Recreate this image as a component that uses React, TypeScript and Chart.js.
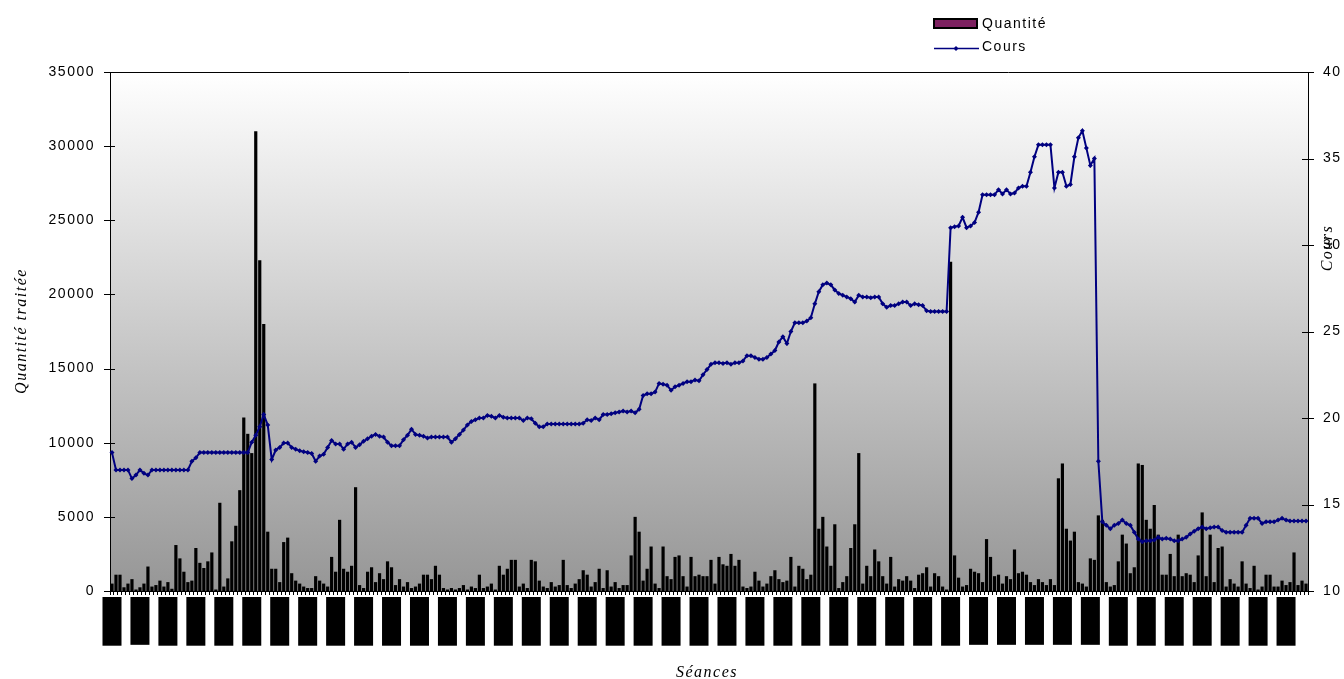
import React, { useEffect, useRef } from 'react';
import { Chart, registerables } from 'chart.js';

Chart.register(...registerables);

// Tick labels (every 7th séance is labelled)
const tickDates = [
  '02/01/07', '11/01/07', '22/01/07', '31/01/07', '09/02/07', '20/02/07', '01/03/07', '12/03/07', '21/03/07', '30/03/07',
  '10/04/07', '19/04/07', '30/04/07', '09/05/07', '18/05/07', '29/05/07', '07/06/07', '18/06/07', '27/06/07', '06/07/07',
  '17/07/07', '26/07/07', '06/08/07', '15/08/07', '24/08/07', '04/09/07', '13/09/07', '24/09/07', '03/10/07', '12/10/07',
  '23/10/07', '01/11/07', '12/11/07', '21/11/07', '30/11/07', '11/12/07', '20/12/07', '31/12/07', '09/01/08', '18/01/08',
  '29/01/08', '07/02/08', '18/02/08',
];
const LABEL_STEP = 7;

const qtyTicks = [0, 5000, 10000, 15000, 20000, 25000, 30000, 35000];
const coursTicks = [10, 15, 20, 25, 30, 35, 40];

// Quantité traitée (left axis)
const quantite = [
  500, 1100, 1100, 250, 500, 800, 100, 250, 500, 1650,
  300, 400, 700, 300, 600, 150, 3100, 2200, 1300, 600,
  700, 2900, 1900, 1550, 2000, 2600, 100, 5950, 300, 850,
  3350, 4400, 6800, 11700, 10600, 9300, 31000, 22300, 18000, 4000,
  1500, 1500, 600, 3300, 3600, 1200, 700, 500, 300, 200,
  200, 1000, 700, 500, 300, 2300, 1300, 4800, 1500, 1300,
  1700, 7000, 400, 200, 1300, 1600, 600, 1200, 800, 2000,
  1600, 400, 800, 300, 600, 200, 300, 500, 1100, 1100,
  800, 1700, 1100, 200, 100, 200, 100, 200, 400, 100,
  300, 200, 1100, 200, 300, 500, 100, 1700, 1100, 1500,
  2100, 2100, 300, 500, 200, 2100, 2000, 700, 300, 200,
  600, 300, 400, 2100, 400, 200, 500, 800, 1400, 1100,
  300, 600, 1500, 200, 1400, 300, 600, 200, 400, 400,
  2400, 5000, 4000, 700, 1500, 3000, 500, 200, 3000, 1000,
  800, 2300, 2400, 1000, 300, 2300, 1000, 1100, 1000, 1000,
  2100, 500, 2300, 1800, 1700, 2500, 1700, 2100, 300, 200,
  300, 1300, 700, 300, 500, 1000, 1400, 800, 600, 700,
  2300, 300, 1700, 1500, 800, 1100, 14000, 4200, 5000, 3000,
  1700, 4500, 200, 600, 1000, 2900, 4500, 9300, 500, 1700,
  1000, 2800, 2000, 1000, 500, 2300, 300, 800, 700, 1000,
  700, 200, 1100, 1200, 1600, 300, 1200, 1000, 300, 100,
  22200, 2400, 900, 300, 400, 1500, 1300, 1200, 600, 3500,
  2300, 1000, 1100, 500, 1000, 800, 2800, 1200, 1300, 1100,
  600, 400, 800, 600, 400, 800, 400, 7600, 8600, 4200,
  3400, 4000, 600, 500, 300, 2200, 2100, 5100, 4800, 600,
  300, 400, 2000, 3800, 3200, 1200, 1600, 8600, 8500, 4800,
  4200, 5800, 3800, 1100, 1100, 2500, 1000, 3800, 1000, 1200,
  1100, 600, 2400, 5300, 1000, 3800, 600, 2900, 3000, 300,
  800, 500, 300, 2000, 500, 200, 1700, 100, 300, 1100,
  1100, 300, 300, 700, 400, 600, 2600, 400, 700, 500,
];

// Cours (right axis)
const cours = [
  18.0, 17.0, 17.0, 17.0, 17.0, 16.5, 16.7, 17.0, 16.8, 16.7,
  17.0, 17.0, 17.0, 17.0, 17.0, 17.0, 17.0, 17.0, 17.0, 17.0,
  17.5, 17.7, 18.0, 18.0, 18.0, 18.0, 18.0, 18.0, 18.0, 18.0,
  18.0, 18.0, 18.0, 18.0, 18.0, 18.6, 19.0, 19.5, 20.2, 19.6,
  17.6, 18.15, 18.3, 18.55, 18.55, 18.3, 18.2, 18.1, 18.05, 18.0,
  17.95, 17.5, 17.8, 17.9, 18.3, 18.7, 18.5, 18.5, 18.2, 18.5,
  18.6, 18.3, 18.45, 18.65, 18.8, 18.95, 19.05, 18.95, 18.9, 18.6,
  18.4, 18.4, 18.4, 18.75, 19.0, 19.35, 19.05, 19.0, 18.95, 18.85,
  18.9, 18.9, 18.9, 18.9, 18.9, 18.6, 18.8, 19.05, 19.3, 19.6,
  19.8, 19.9, 20.0, 20.0, 20.15, 20.1, 20.0, 20.15, 20.05, 20.0,
  20.0, 20.0, 20.0, 19.85, 20.0, 19.95, 19.7, 19.5, 19.5, 19.65,
  19.65, 19.65, 19.65, 19.65, 19.65, 19.65, 19.65, 19.65, 19.7, 19.9,
  19.85, 20.0, 19.9, 20.2, 20.2, 20.25, 20.3, 20.35, 20.4, 20.35,
  20.4, 20.3, 20.5, 21.3, 21.4, 21.4, 21.5, 22.0, 21.95, 21.9,
  21.6, 21.8, 21.9, 22.0, 22.1, 22.1, 22.2, 22.15, 22.5, 22.8,
  23.1, 23.2, 23.2, 23.15, 23.2, 23.1, 23.2, 23.2, 23.3, 23.6,
  23.6, 23.5, 23.4, 23.4, 23.5, 23.7, 23.9, 24.4, 24.7, 24.3,
  25.0, 25.5, 25.5, 25.5, 25.6, 25.8, 26.6, 27.3, 27.7, 27.8,
  27.7, 27.4, 27.2, 27.1, 27.0, 26.9, 26.7, 27.1, 27.0, 27.0,
  26.95, 27.0, 27.0, 26.6, 26.4, 26.5, 26.5, 26.6, 26.7, 26.7,
  26.5, 26.6, 26.55, 26.5, 26.2, 26.15, 26.15, 26.15, 26.15, 26.15,
  31.0, 31.05, 31.1, 31.6, 31.0, 31.1, 31.3, 31.9, 32.9, 32.9,
  32.9, 32.9, 33.2, 32.95, 33.2, 32.95, 33.0, 33.3, 33.4, 33.4,
  34.2, 35.1, 35.8, 35.8, 35.8, 35.8, 33.3, 34.2, 34.2, 33.4,
  33.5, 35.1, 36.2, 36.6, 35.6, 34.6, 35.0, 17.5, 14.0, 13.8,
  13.6, 13.8, 13.9, 14.1, 13.9, 13.8, 13.4, 13.0, 12.85, 12.9,
  12.9, 12.95, 13.1, 13.0, 13.05, 13.0, 12.9, 12.9, 13.0, 13.1,
  13.3, 13.45, 13.6, 13.7, 13.6, 13.65, 13.7, 13.7, 13.5, 13.4,
  13.4, 13.4, 13.4, 13.4, 13.8, 14.2, 14.2, 14.2, 13.9, 14.0,
  14.0, 14.0, 14.1, 14.2, 14.1, 14.05, 14.05, 14.05, 14.05, 14.05,
];

const categories = quantite.map((_, i) =>
  i % LABEL_STEP === 0 ? tickDates[i / LABEL_STEP] ?? '' : ''
);

const SANS = '"Liberation Sans", Arial, sans-serif';
const SERIF = '"Liberation Serif", "Times New Roman", serif';

const decor = {
  id: 'decor',
  beforeDraw(chart: any) {
    const { ctx, chartArea: a } = chart;
    const g = ctx.createLinearGradient(0, a.top, 0, a.bottom);
    g.addColorStop(0, '#ffffff');
    g.addColorStop(1, '#969696');
    ctx.save();
    ctx.fillStyle = g;
    ctx.fillRect(a.left, a.top, a.right - a.left, a.bottom - a.top);
    ctx.restore();
  },
  afterDraw(chart: any) {
    const { ctx, chartArea: a, scales } = chart;
    const y = scales.y;
    const y1 = scales.y1;
    ctx.save();
    ctx.strokeStyle = '#000';
    ctx.lineWidth = 1;
    // top border of plot area
    ctx.beginPath();
    ctx.moveTo(a.left, Math.round(a.top) + 0.5);
    ctx.lineTo(a.right, Math.round(a.top) + 0.5);
    ctx.stroke();
    // crossing tick marks
    qtyTicks.forEach((v) => {
      const py = Math.round(y.getPixelForValue(v)) + 0.5;
      ctx.beginPath();
      ctx.moveTo(a.left - 6, py);
      ctx.lineTo(a.left + 5, py);
      ctx.stroke();
    });
    coursTicks.forEach((v) => {
      const py = Math.round(y1.getPixelForValue(v)) + 0.5;
      ctx.beginPath();
      ctx.moveTo(a.right - 6, py);
      ctx.lineTo(a.right + 6, py);
      ctx.stroke();
    });
    // tick labels
    ctx.fillStyle = '#000';
    ctx.font = `14px ${SANS}`;
    (ctx as any).letterSpacing = '1.5px';
    ctx.textBaseline = 'middle';
    ctx.textAlign = 'right';
    qtyTicks.forEach((v) => ctx.fillText(String(v), 95, y.getPixelForValue(v)));
    ctx.textAlign = 'left';
    coursTicks.forEach((v) => ctx.fillText(String(v), 1323, y1.getPixelForValue(v)));
    // axis titles
    ctx.font = `italic 16px ${SERIF}`;
    ctx.textAlign = 'center';
    ctx.save();
    ctx.translate(22, 331);
    ctx.rotate(-Math.PI / 2);
    ctx.fillText('Quantité traitée', 0, 0);
    ctx.restore();
    ctx.save();
    ctx.translate(1328, 248);
    ctx.rotate(-Math.PI / 2);
    ctx.fillText('Cours', 0, 0);
    ctx.restore();
    ctx.fillText('Séances', 707, 673);
    // legend
    ctx.fillStyle = '#7D2160';
    ctx.fillRect(934, 19, 43, 9);
    ctx.lineWidth = 2;
    ctx.strokeStyle = '#000';
    ctx.strokeRect(934, 19, 43, 9);
    ctx.strokeStyle = '#000080';
    ctx.lineWidth = 1.5;
    ctx.beginPath();
    ctx.moveTo(934, 48.5);
    ctx.lineTo(979, 48.5);
    ctx.stroke();
    ctx.fillStyle = '#000080';
    ctx.beginPath();
    ctx.moveTo(956, 46);
    ctx.lineTo(958.5, 48.5);
    ctx.lineTo(956, 51);
    ctx.lineTo(953.5, 48.5);
    ctx.closePath();
    ctx.fill();
    ctx.fillStyle = '#000';
    ctx.font = `14px ${SANS}`;
    ctx.textAlign = 'left';
    ctx.fillText('Quantité', 982, 24);
    ctx.fillText('Cours', 982, 47);
    ctx.restore();
  },
};

export default function App() {
  const ref = useRef<HTMLCanvasElement>(null);
  useEffect(() => {
    if (!ref.current) return;
    const chart = new Chart(ref.current, {
      type: 'bar',
      data: {
        labels: categories,
        datasets: [
          {
            type: 'line',
            label: 'Cours',
            data: cours,
            yAxisID: 'y1',
            order: 0,
            borderColor: '#000080',
            backgroundColor: '#000080',
            borderWidth: 2,
            pointStyle: 'rectRot',
            pointRadius: 2.5,
            pointBorderWidth: 0,
            pointBackgroundColor: '#000080',
            tension: 0,
            fill: false,
          } as any,
          {
            type: 'bar',
            label: 'Quantité',
            data: quantite,
            yAxisID: 'y',
            order: 1,
            backgroundColor: '#000000',
            borderWidth: 0,
            barPercentage: 0.8,
            categoryPercentage: 1,
          },
        ],
      },
      options: {
        responsive: false,
        devicePixelRatio: 1,
        animation: false,
        layout: { padding: { top: 72, left: 0, right: 0, bottom: 0 } },
        plugins: {
          legend: { display: false },
          tooltip: { enabled: false },
        },
        scales: {
          x: {
            type: 'category',
            offset: true,
            grid: {
              display: true,
              drawOnChartArea: false,
              drawTicks: true,
              tickLength: 4,
              color: '#000',
              offset: true,
            },
            border: { display: true, color: '#000', width: 1 },
            ticks: {
              autoSkip: false,
              minRotation: 90,
              maxRotation: 90,
              padding: 3,
              labelOffset: -8.5,
              color: '#000',
              font: { family: SANS, size: 12, lineHeight: 17 / 12 },
              showLabelBackdrop: (c: any) => c.index % LABEL_STEP === 0,
              backdropColor: '#000',
              backdropPadding: 1,
            },
            afterFit: (s: any) => {
              s.height = 88;
            },
          },
          y: {
            position: 'left',
            min: 0,
            max: 35000,
            ticks: { display: false, stepSize: 5000 },
            grid: { display: false },
            border: { display: true, color: '#000', width: 1 },
            afterFit: (s: any) => {
              s.width = 110;
            },
          },
          y1: {
            position: 'right',
            min: 10,
            max: 40,
            ticks: { display: false, stepSize: 5 },
            grid: { display: false },
            border: { display: true, color: '#000', width: 1 },
            afterFit: (s: any) => {
              s.width = 36;
            },
          },
        } as any,
      },
      plugins: [decor],
    });
    return () => chart.destroy();
  }, []);

  return (
    <canvas
      ref={ref}
      width={1344}
      height={679}
      style={{ position: 'absolute', left: 0, top: 0, width: 1344, height: 679, display: 'block' }}
    />
  );
}
